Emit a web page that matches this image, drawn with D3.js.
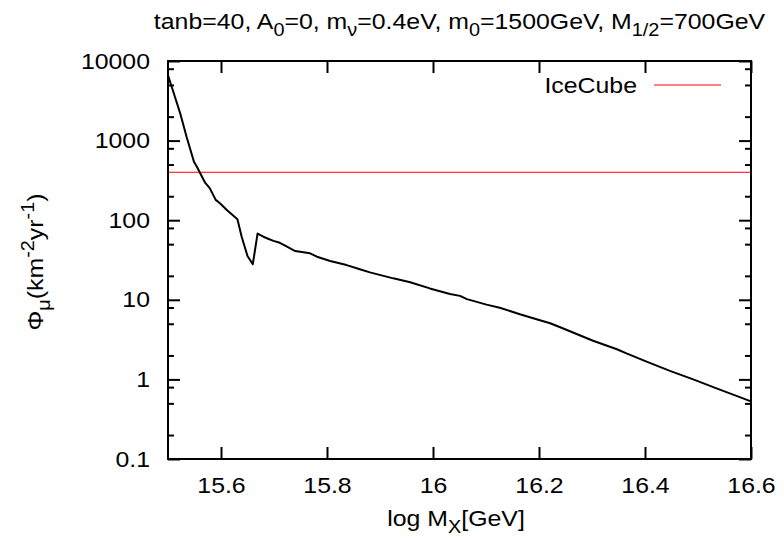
<!DOCTYPE html>
<html>
<head>
<meta charset="utf-8">
<script src="https://cdn.jsdelivr.net/npm/d3@7/dist/d3.min.js"></script>
<style>
  html, body { margin: 0; padding: 0; background: #fff; }
  svg { display: block; }
  text { font-family: "Liberation Sans", Arial, Helvetica, sans-serif; fill: #000; }
</style>
</head>
<body>
<svg id="chart" width="784" height="538"></svg>
<script>
// log10 of the unification scale M_X [GeV]
const logMX = [15.500, 15.513, 15.523, 15.535, 15.549, 15.555, 15.570, 15.579, 15.590, 15.598,
               15.611, 15.631, 15.639, 15.650, 15.660, 15.669, 15.680, 15.690, 15.699, 15.711,
               15.721, 15.740, 15.768, 15.781, 15.806, 15.837, 15.862, 15.881, 15.925, 15.957,
               15.994, 16.032, 16.051, 16.064, 16.101, 16.126, 16.164, 16.189, 16.221, 16.240,
               16.271, 16.302, 16.347, 16.365, 16.403, 16.447, 16.491, 16.535, 16.600];
// muon flux Phi_mu [km^-2 yr^-1]
const muonFlux = [6600, 3560, 2200, 1120, 543, 462, 296, 251, 180, 163,
                  134, 103, 62, 35.5, 28, 68, 62, 58, 55, 52,
                  48, 41, 38.4, 34.8, 30.7, 27.3, 24.2, 22.1, 18.6, 16.6,
                  13.9, 11.8, 11.2, 10.2, 8.7, 7.96, 6.58, 5.86, 5.07, 4.52,
                  3.72, 3.06, 2.39, 2.12, 1.67, 1.28, 1.00, 0.77, 0.53];
// IceCube sensitivity level
const iceCubeLimit = 400;

const xTicks = [15.6, 15.8, 16.0, 16.2, 16.4, 16.6];
const xTickLabels = ["15.6", "15.8", "16", "16.2", "16.4", "16.6"];
const yTicks = [0.1, 1, 10, 100, 1000, 10000];
const yTickLabels = ["0.1", "1", "10", "100", "1000", "10000"];
const yMinorFactors = [2, 5, 8];

const svg = d3.select("#chart");
const plot = { left: 168, right: 751, top: 61, bottom: 459 };
const fontSize = 22;
const stretch = 1.13;   // horizontal widening of all lettering

const x = d3.scaleLinear().domain([15.5, 16.6]).range([plot.left, plot.right]);
const y = d3.scaleLog().domain([0.1, 10000]).range([plot.bottom, plot.top]);

const minorTicks = [];
yTicks.slice(0, -1).forEach(d => yMinorFactors.forEach(f => minorTicks.push(d * f)));

function styleAxis(g) {
  g.select(".domain").remove();
  g.selectAll(".tick line").attr("stroke", "#000").attr("stroke-width", 2);
  g.selectAll(".tick text")
    .attr("font-size", fontSize)
    .attr("font-family", '"Liberation Sans", Arial, Helvetica, sans-serif')
    .attr("x", function () { return (+d3.select(this).attr("x") || 0) / stretch; })
    .attr("transform", `scale(${stretch},1)`);
}

// bottom axis with labels
svg.append("g").attr("transform", `translate(0,${plot.bottom})`)
  .call(d3.axisBottom(x).tickValues(xTicks).tickSize(-12).tickPadding(18)
        .tickFormat((d, i) => xTickLabels[i]))
  .call(styleAxis);
// top mirror ticks
svg.append("g").attr("transform", `translate(0,${plot.top})`)
  .call(d3.axisTop(x).tickValues(xTicks).tickSize(-12).tickFormat(""))
  .call(styleAxis);
// left axis with labels
svg.append("g").attr("transform", `translate(${plot.left},0)`)
  .call(d3.axisLeft(y).tickValues(yTicks).tickSize(-12).tickPadding(18)
        .tickFormat((d, i) => yTickLabels[i]))
  .call(styleAxis);
svg.append("g").attr("transform", `translate(${plot.left},0)`)
  .call(d3.axisLeft(y).tickValues(minorTicks).tickSize(-6).tickFormat(""))
  .call(styleAxis);
// right mirror ticks
svg.append("g").attr("transform", `translate(${plot.right},0)`)
  .call(d3.axisRight(y).tickValues(yTicks).tickSize(-12).tickFormat(""))
  .call(styleAxis);
svg.append("g").attr("transform", `translate(${plot.right},0)`)
  .call(d3.axisRight(y).tickValues(minorTicks).tickSize(-6).tickFormat(""))
  .call(styleAxis);

// IceCube level
svg.append("line")
  .attr("x1", x(15.5)).attr("x2", x(16.6))
  .attr("y1", y(iceCubeLimit)).attr("y2", y(iceCubeLimit))
  .attr("stroke", "#ff0000").attr("stroke-width", 1);

// flux curve
const line = d3.line().x((d, i) => x(logMX[i])).y(d => y(d));
svg.append("path")
  .datum(muonFlux)
  .attr("d", line)
  .attr("fill", "none")
  .attr("stroke", "#000")
  .attr("stroke-width", 2)
  .attr("stroke-linejoin", "round");

// frame
svg.append("rect")
  .attr("x", plot.left).attr("y", plot.top)
  .attr("width", plot.right - plot.left).attr("height", plot.bottom - plot.top)
  .attr("fill", "none").attr("stroke", "#000").attr("stroke-width", 2);

// text placed at (px, py) with optional rotation, widened horizontally
function label(px, py, anchor, rotate) {
  return svg.append("text")
    .attr("transform", `translate(${px},${py})` + (rotate ? ` rotate(${rotate})` : "") + ` scale(${stretch},1)`)
    .attr("text-anchor", anchor).attr("font-size", fontSize);
}

// text with sub/superscripts: parts = [[text, "n"|"sub"|"sup"], ...]
function richText(sel, parts) {
  let shift = 0;
  parts.forEach(([t, kind]) => {
    const target = kind === "sub" ? 0.3 : kind === "sup" ? -0.42 : 0;
    sel.append("tspan")
      .attr("dy", ((target - shift) * fontSize).toFixed(2))
      .attr("font-size", kind === "n" ? fontSize : fontSize * 0.8)
      .text(t);
    shift = target;
  });
}

// legend
label(637, 93, "end").text("IceCube");
svg.append("line")
  .attr("x1", 654).attr("x2", 721).attr("y1", 85).attr("y2", 85)
  .attr("stroke", "#ff0000").attr("stroke-width", 1);

// title
richText(label((plot.left + plot.right) / 2, 29, "middle"),
  [["tanb=40, A", "n"], ["0", "sub"], ["=0, m", "n"], ["ν", "sub"],
   ["=0.4eV, m", "n"], ["0", "sub"], ["=1500GeV, M", "n"], ["1/2", "sub"], ["=700GeV", "n"]]);

// x label
richText(label(456, 526, "middle"), [["log M", "n"], ["X", "sub"], ["[GeV]", "n"]]);

// y label
richText(label(43, 262, "middle", -90),
  [["Φ", "n"], ["μ", "sub"], ["(km", "n"], ["-2", "sup"], ["yr", "n"], ["-1", "sup"], [")", "n"]]);
</script>
</body>
</html>
